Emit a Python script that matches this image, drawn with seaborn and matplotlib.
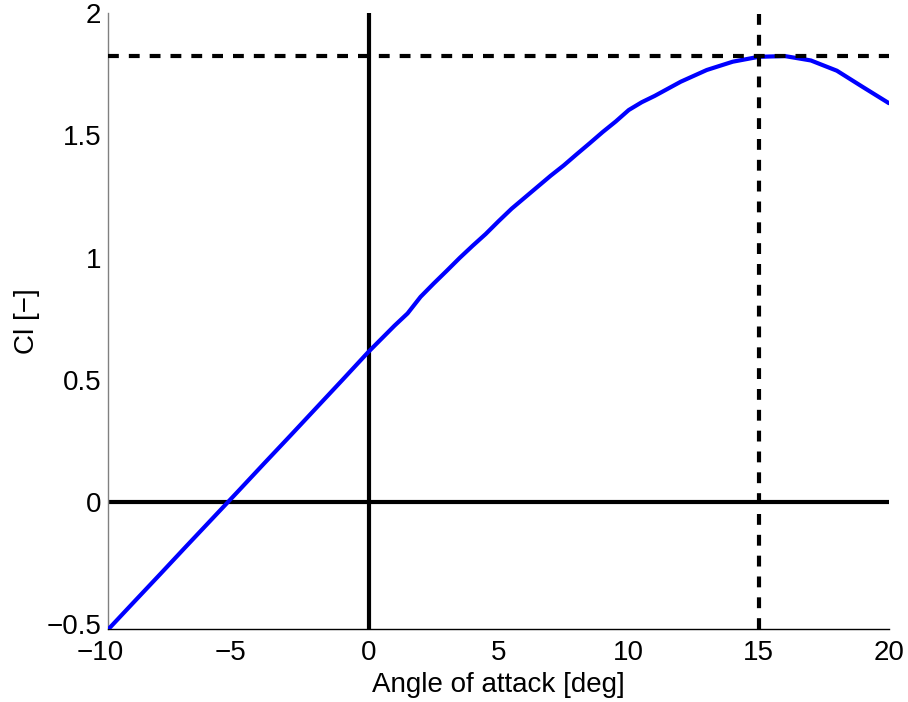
import matplotlib
matplotlib.use("Agg")
import matplotlib.pyplot as plt
from matplotlib.transforms import ScaledTranslation
import seaborn as sns
import pandas as pd

# Data
alpha = [-10, -9, -8, -7, -6, -5, -4, -3, -2, -1, 0, 1, 1.5, 2, 2.5, 3, 3.5, 4, 4.5,
         5, 5.5, 6, 6.5, 7, 7.5, 8, 8.5, 9, 9.5, 10, 10.5, 11, 12, 13, 14, 15, 16, 17, 18, 19, 20]
cl = [-0.5225, -0.409, -0.296, -0.182, -0.069, 0.044, 0.158, 0.271, 0.385, 0.499,
      0.614, 0.721, 0.771, 0.839, 0.893, 0.945, 0.998, 1.048, 1.096,
      1.149, 1.200, 1.245, 1.290, 1.335, 1.377, 1.423, 1.468, 1.514, 1.557,
      1.604, 1.636, 1.662, 1.720, 1.768, 1.802, 1.822, 1.825, 1.807, 1.765, 1.698, 1.632]
alpha_max = 15
cl_max = 1.825
xticks = [-10, -5, 0, 5, 10, 15, 20]
xtick_labels = ["\u221210", "\u22125", "0", "5", "10", "15", "20"]
yticks = [-0.5, 0, 0.5, 1, 1.5, 2]
ytick_labels = ["\u22120.5", "0", "0.5", "1", "1.5", "2"]
xlim = (-10, 20)
ylim = (-0.5225, 2)

sns.set_style("white")
plt.rcParams["font.family"] = ["Liberation Sans", "DejaVu Sans"]
plt.rcParams["text.color"] = "black"
plt.rcParams["axes.labelcolor"] = "black"

fig = plt.figure(figsize=(9.08, 7.02), dpi=100)
ax = fig.add_axes([0.1193, 0.1036, 0.979 - 0.1193, 0.981 - 0.1036])

df = pd.DataFrame({"alpha": alpha, "cl": cl})

# reference lines
ax.axvline(0, color="black", lw=3, zorder=2)
ax.axhline(0, color="black", lw=3, zorder=2)

sns.lineplot(data=df, x="alpha", y="cl", color="#0000ff", lw=3, ax=ax, zorder=3)

ax.axvline(alpha_max, color="black", lw=3, ls=(0, (2.6, 2.4)), zorder=4)
ax.axhline(cl_max, color="black", lw=3, ls=(0, (2.6, 2.4)), zorder=4)

ax.set_xlim(*xlim)
ax.set_ylim(*ylim)
ax.set_xticks(xticks)
ax.set_xticklabels(xtick_labels)
ax.set_yticks(yticks)
ax.set_yticklabels(ytick_labels)

ax.tick_params(axis="both", direction="in", length=4, width=0.8, labelsize=20,
               colors="black")
ax.tick_params(axis="x", pad=8)
ax.tick_params(axis="y", pad=5)

# MATLAB-style: digits centred on the tick, minus sign sticking out to the left
for lab in ax.get_xticklabels():
    if lab.get_text().startswith("\u2212"):
        lab.set_transform(lab.get_transform() +
                          ScaledTranslation(-8 / 100, 0, fig.dpi_scale_trans))

for s in ["top", "right"]:
    ax.spines[s].set_visible(False)
ax.spines["left"].set_color("#808080")
ax.spines["left"].set_linewidth(1.0)
ax.spines["bottom"].set_color("black")
ax.spines["bottom"].set_linewidth(1.0)

ax.set_xlabel("Angle of attack [deg]", fontsize=20, color="black")
ax.set_ylabel("Cl [\u2212]", fontsize=20, color="black")
ax.xaxis.set_label_coords(0.5, -0.069)
ax.yaxis.set_label_coords(-0.088, 0.5)

fig.savefig("out.png", dpi=100, facecolor="white")
